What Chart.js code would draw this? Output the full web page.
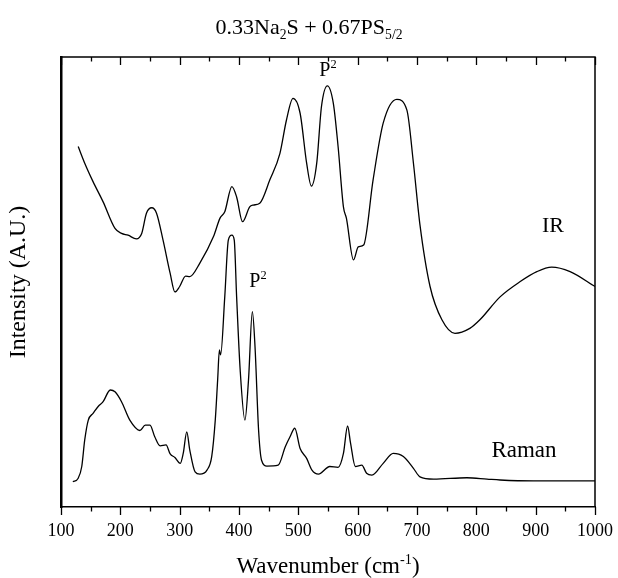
<!DOCTYPE html>
<html>
<head>
<meta charset="utf-8">
<script src="https://cdn.jsdelivr.net/npm/chart.js@4"></script>
<style>
	body { margin: 0; background: #fff; }
	canvas { display: block; }
</style>
</head>
<body>
<canvas id="spectra" width="618" height="578"></canvas>
<script>
// IR spectrum (upper curve)
const irWavenumber = [129, 140, 154, 171, 191, 202, 213, 227, 236, 244, 253, 261, 272, 284, 292, 300, 310, 317, 334, 357,
	368, 376, 388, 396, 406, 418, 424, 435, 452, 469, 480, 491, 503, 514, 522, 531, 539, 549, 559, 567,
	576, 581, 593, 601, 610, 626, 643, 666, 683, 694, 705, 722, 742, 764, 789, 806, 840, 874, 902, 927, 958, 1000];
const irIntensity = [80.1, 76.4, 72.3, 67.8, 61.9, 60.8, 60.4, 59.6, 60.8, 65.3, 66.5, 65.3, 59.3, 51.9, 47.8, 49.0, 51.3, 51.2, 54.2, 60.1,
	64.2, 65.6, 71.2, 68.9, 63.4, 66.7, 67.1, 67.5, 72.7, 78.6, 86.0, 90.8, 87.5, 76.4, 71.3, 76.4, 89.0, 93.6, 89.7, 80.1,
	66.7, 64.2, 54.9, 57.8, 58.2, 72.7, 85.3, 90.6, 88.2, 76.4, 62.7, 49.0, 41.6, 38.6, 39.7, 41.6, 46.7, 50.1, 52.3, 53.3, 52.3, 49.0];

// Raman spectrum (lower curve)
const ramanWavenumber = [120, 129, 135, 140, 146, 154, 163, 171, 183, 191, 202, 216, 233, 242, 250, 258, 267, 277, 284, 292,
	301, 306, 312, 317, 326, 334, 346, 354, 360, 364, 367, 369, 376, 382, 388, 392, 396, 402, 410, 416,
	422.5, 427, 433, 438, 447, 466, 478, 486, 494, 503, 514, 523, 534, 553, 567, 576, 583, 588, 596, 607,
	615, 624, 643, 660, 677, 694, 705, 728, 784, 818, 840, 896, 941, 1000];
const ramanIntensity = [5.6, 6.4, 9.0, 14.9, 19.3, 20.8, 22.4, 23.4, 26.0, 25.6, 23.4, 19.3, 17.0, 18.2, 18.2, 15.6, 13.6, 13.8, 11.8, 11.0,
	9.7, 11.9, 16.7, 12.7, 7.8, 7.3, 8.2, 11.2, 19.3, 28.2, 34.9, 33.8, 46.7, 59.3, 60.4, 59.3, 46.7, 30.4, 19.3, 28.2,
	43.4, 35.6, 17.1, 10.4, 9.1, 9.3, 13.4, 15.6, 17.5, 13.0, 10.8, 8.2, 7.3, 9.0, 8.8, 11.9, 18.0, 14.2, 9.0, 9.3,
	7.5, 7.1, 9.7, 11.9, 11.2, 8.6, 6.7, 6.2, 6.5, 6.2, 6.0, 5.8, 5.8, 5.8];

const xTicks = [100, 200, 300, 400, 500, 600, 700, 800, 900, 1000];

const SERIF = "'Liberation Serif', 'DejaVu Serif', serif";

// draws text made of pieces, some raised or lowered (sub/superscript)
function richText(ctx, parts, cx, baseY, size) {
	let total = 0;
	parts.forEach(p => {
		ctx.font = (p.s ? size * 0.62 : size) + "px " + SERIF;
		p.w = ctx.measureText(p.t).width;
		total += p.w;
	});
	let x = cx - total / 2;
	ctx.textAlign = "left";
	ctx.textBaseline = "alphabetic";
	parts.forEach(p => {
		ctx.font = (p.s ? size * 0.62 : size) + "px " + SERIF;
		ctx.fillText(p.t, x, baseY + (p.s === "sub" ? size * 0.22 : p.s === "sup" ? -size * 0.4 : 0));
		x += p.w;
	});
}

const frameAndText = {
	id: "frameAndText",
	afterDraw(chart) {
		const { ctx, chartArea: { left, right, top, bottom } } = chart;
		const xs = chart.scales.x;
		ctx.save();
		ctx.strokeStyle = "#000";
		ctx.lineWidth = 1.5;
		ctx.beginPath();
		ctx.moveTo(left, top);
		ctx.lineTo(right, top);
		ctx.lineTo(right, bottom);
		ctx.stroke();
		// ticks: outward on the bottom, inward on the top
		ctx.lineWidth = 1.3;
		for (let v = xs.min; v <= xs.max; v += 50) {
			const px = Math.round(xs.getPixelForValue(v)) + 0.5;
			const len = v % 100 === 0 ? 8 : 4.5;
			ctx.beginPath();
			ctx.moveTo(px, bottom);
			ctx.lineTo(px, bottom + len);
			ctx.moveTo(px, top);
			ctx.lineTo(px, top + len);
			ctx.stroke();
		}
		ctx.fillStyle = "#000";
		richText(ctx, [{ t: "0.33Na" }, { t: "2", s: "sub" }, { t: "S + 0.67PS" }, { t: "5/2", s: "sub" }], 309, 34, 22);
		richText(ctx, [{ t: "Wavenumber (cm" }, { t: "-1", s: "sup" }, { t: ")" }], 328, 573, 23);
		richText(ctx, [{ t: "P" }, { t: "2", s: "sup" }], 328, 76, 20);
		richText(ctx, [{ t: "P" }, { t: "2", s: "sup" }], 258, 287, 20);
		richText(ctx, [{ t: "IR" }], 553, 232, 22);
		richText(ctx, [{ t: "Raman" }], 524, 457, 23);
		ctx.restore();
	}
};

const ctx = document.getElementById("spectra").getContext("2d");
const config = {
	type: "line",
	data: {
		datasets: [
			{
				label: "IR",
				data: irWavenumber.map((w, i) => ({ x: w, y: irIntensity[i] })),
				borderColor: "#000",
				borderWidth: 1.3,
				pointRadius: 0,
				cubicInterpolationMode: "monotone"
			},
			{
				label: "Raman",
				data: ramanWavenumber.map((w, i) => ({ x: w, y: ramanIntensity[i] })),
				borderColor: "#000",
				borderWidth: 1.3,
				pointRadius: 0,
				cubicInterpolationMode: "monotone"
			}
		]
	},
	options: {
		responsive: false,
		animation: false,
		layout: { padding: { top: 57, right: 23, left: 0, bottom: 0 } },
		plugins: { legend: { display: false }, tooltip: { enabled: false } },
		scales: {
			x: {
				type: "linear",
				min: 100,
				max: 1000,
				afterBuildTicks(scale) {
					scale.ticks = xTicks.map(v => ({ value: v }));
				},
				afterFit(scale) {
					scale.height = 71;
					scale.paddingLeft = 0;
					scale.paddingRight = 0;
				},
				ticks: {
					color: "#000",
					font: { family: SERIF, size: 18 },
					padding: 5,
					maxRotation: 0,
					callback: v => String(v)
				},
				grid: { display: false },
				border: { display: true, color: "#000", width: 1.5 }
			},
			y: {
				min: 0,
				max: 100,
				afterFit(scale) {
					scale.width = 61;
				},
				ticks: { display: false },
				grid: { display: false },
				border: { display: true, color: "#000", width: 2.5 },
				title: {
					display: true,
					text: "Intensity (A.U.)",
					color: "#000",
					font: { family: SERIF, size: 24 },
					padding: { top: 4 }
				}
			}
		}
	},
	plugins: [frameAndText]
};

var spectraChart = new Chart(ctx, config);
</script>
</body>
</html>
